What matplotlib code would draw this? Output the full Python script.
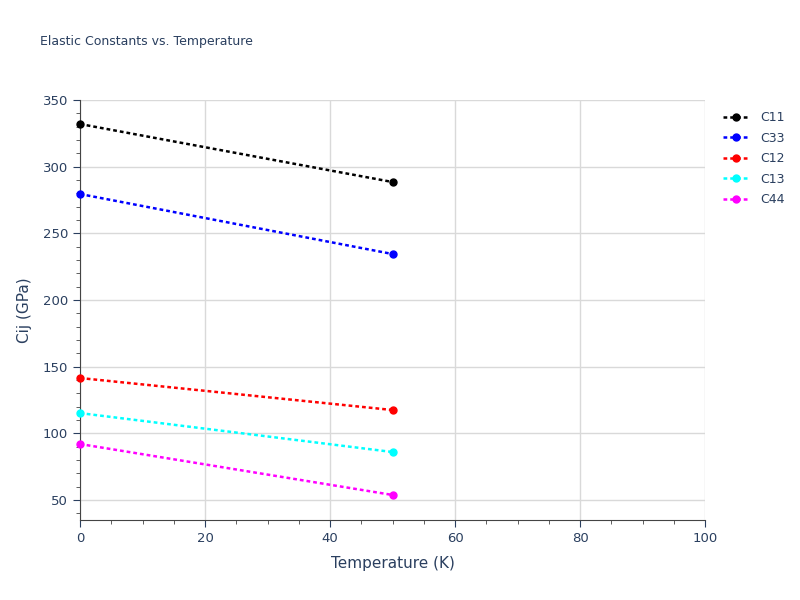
import matplotlib
matplotlib.use("Agg")
import matplotlib.pyplot as plt
from matplotlib.ticker import MultipleLocator

temps = [0, 50]
series_names = ["C11", "C33", "C12", "C13", "C44"]
series_vals = [
    [332, 288.5],
    [279.5, 234.5],
    [141.5, 117.5],
    [115.2, 86],
    [92, 53.8],
]
colors = ["black", "blue", "red", "cyan", "magenta"]

TEXT = "#2a3f5f"
GRID = "#d9d9d9"

fig = plt.figure(figsize=(8, 6), dpi=100)
ax = fig.add_axes([0.1, 0.1333, 0.7813, 0.7])

for name, vals, c in zip(series_names, series_vals, colors):
    ax.plot(temps, vals, linestyle=(0, (1.5, 1.2)), color=c, lw=1.8,
            marker="o", markersize=5, label=name, clip_on=False, zorder=3)

ax.set_xlim(0, 100)
ax.set_ylim(35, 350)
ax.xaxis.set_major_locator(MultipleLocator(20))
ax.yaxis.set_major_locator(MultipleLocator(50))
ax.xaxis.set_minor_locator(MultipleLocator(5))
ax.yaxis.set_minor_locator(MultipleLocator(10))
ax.grid(True, which="major", color=GRID, lw=1)
ax.set_axisbelow(True)
for s in ["top", "right"]:
    ax.spines[s].set_visible(False)
for s in ["left", "bottom"]:
    ax.spines[s].set_color("#444444")
ax.tick_params(which="major", direction="out", length=5, colors=TEXT, labelsize=9.5)
ax.tick_params(which="minor", direction="out", length=3, color="#444444")

ax.set_xlabel("Temperature (K)", color=TEXT, fontsize=11, labelpad=8)
ax.set_ylabel("Cij (GPa)", color=TEXT, fontsize=11, labelpad=8)
fig.text(0.05, 0.925, "Elastic Constants vs. Temperature", color=TEXT, fontsize=9)

leg = ax.legend(loc="upper left", bbox_to_anchor=(1.01, 1.0), frameon=False,
                fontsize=9, handlelength=2.2, labelspacing=0.6)
for t in leg.get_texts():
    t.set_color(TEXT)

fig.savefig("out.png", dpi=100)
